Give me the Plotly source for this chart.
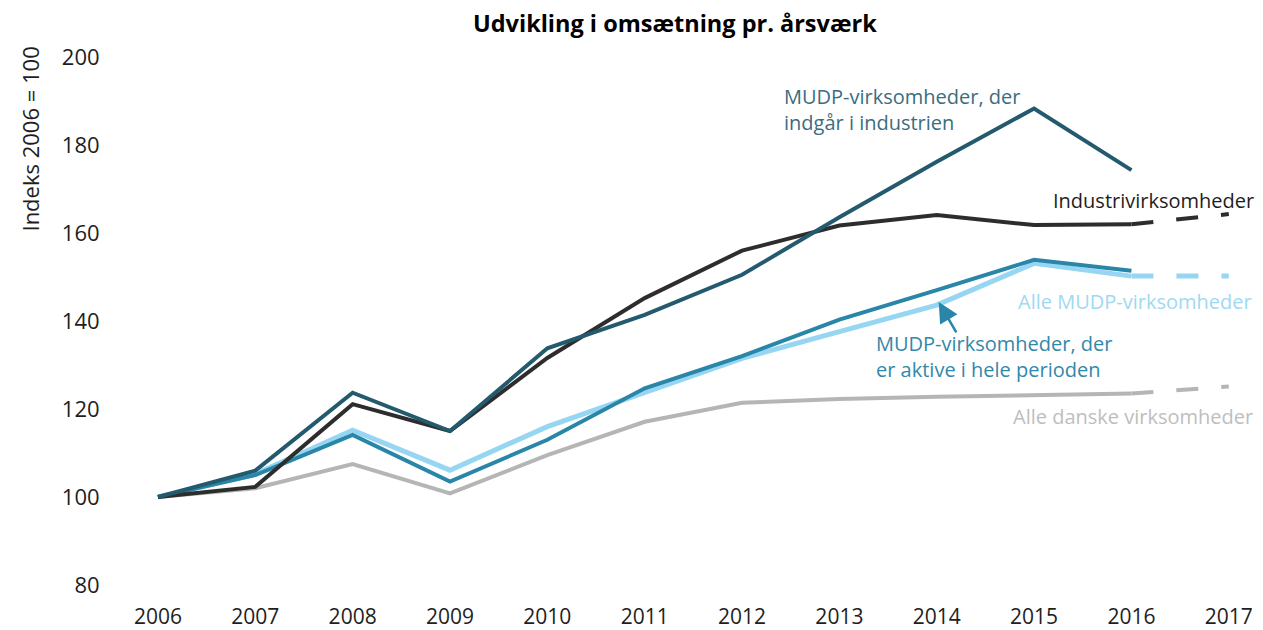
"""Udvikling i omsætning pr. årsværk - indekserede linjer."""

import plotly.graph_objects as go

years = [2006, 2007, 2008, 2009, 2010, 2011, 2012, 2013, 2014, 2015, 2016]
mudp_industri = [100, 106.0, 123.7, 115.0, 133.8, 141.4, 150.5, 163.6, 176.2, 188.3, 174.3]
industri = [100, 102.3, 121.1, 115.0, 131.6, 145.2, 156.0, 161.7, 164.1, 161.8, 162.0]
mudp_aktive = [100, 105.0, 114.1, 103.5, 113.0, 124.7, 132.0, 140.3, 147.0, 153.9, 151.4]
alle_mudp = [100, 105.2, 115.2, 106.1, 116.0, 123.9, 131.5, 137.6, 143.6, 153.1, 150.2]
alle_danske = [100, 102.0, 107.5, 100.8, 109.5, 117.1, 121.4, 122.3, 122.8, 123.2, 123.5]

# fremskrivning 2016 -> 2017 (stiplet)
proj_years = [2016, 2017]
industri_proj = [162.0, 164.3]
alle_mudp_proj = [150.2, 150.2]
alle_danske_proj = [123.5, 125.1]

tick_years = list(range(2006, 2018))
y_ticks = [80, 100, 120, 140, 160, 180, 200]

FONT = "Open Sans"
DARK_TEAL = "#235A6E"
BLACK = "#2D2D2D"
MID_TEAL = "#2A86A8"
LIGHT_BLUE = "#97D6F2"
GREY = "#B5B5B5"

fig = go.Figure()

# draw order: grey at bottom, dark lines on top
solid = [
    (alle_danske, GREY, 4),
    (alle_mudp, LIGHT_BLUE, 5),
    (mudp_aktive, MID_TEAL, 4),
    (industri, BLACK, 4),
    (mudp_industri, DARK_TEAL, 4),
]
for vals, color, width in solid:
    fig.add_trace(
        go.Scatter(
            x=years,
            y=vals,
            mode="lines",
            line={"color": color, "width": width},
            hoverinfo="skip",
        )
    )

dashed = [
    (alle_danske_proj, GREY, 4),
    (alle_mudp_proj, LIGHT_BLUE, 5),
    (industri_proj, BLACK, 4),
]
for vals, color, width in dashed:
    fig.add_trace(
        go.Scatter(
            x=proj_years,
            y=vals,
            mode="lines",
            line={"color": color, "width": width, "dash": "22px,23px"},
            hoverinfo="skip",
        )
    )

# series labels: (text, x, y, colour, anchor)
labels = [
    ("MUDP-virksomheder, der<br>indgår i industrien", 2012.41, 188.0, "#3A6D80", "left"),
    ("Industrivirksomheder", 2017.28, 167.4, "#1E1E1E", "right"),
    ("Alle MUDP-virksomheder", 2017.26, 144.5, "#9FD9F2", "right"),
    ("MUDP-virksomheder, der<br>er aktive i hele perioden", 2013.36, 131.9, "#3288AA", "left"),
    ("Alle danske virksomheder", 2017.27, 118.3, "#BEBEBE", "right"),
]
for text, x, y, color, anchor in labels:
    fig.add_annotation(
        text=text,
        x=x,
        y=y,
        xref="x",
        yref="y",
        xanchor=anchor,
        yanchor="middle",
        align="left",
        showarrow=False,
        font={"family": FONT, "size": 20, "color": color},
    )

# arrow pointing at the "aktive" line
fig.add_annotation(
    text="",
    x=2014.02,
    y=144.3,
    ax=2014.21,
    ay=137.1,
    xref="x",
    yref="y",
    axref="x",
    ayref="y",
    showarrow=True,
    arrowhead=2,
    arrowsize=1.6,
    arrowwidth=2.5,
    arrowcolor=MID_TEAL,
)

# y-axis title, placed at the top-left like the original
fig.add_annotation(
    text="Indeks 2006 = 100",
    xref="paper",
    yref="paper",
    x=-0.078,
    y=1.023,
    xanchor="center",
    yanchor="top",
    textangle=-90,
    showarrow=False,
    font={"family": FONT, "size": 22, "color": "#1E1E1E"},
)

# page body has an 8px margin, so the figure is sized to the visible area
fig.update_layout(
    title={
        "text": "<b>Udvikling i omsætning pr. årsværk</b>",
        "x": 0.488,
        "xref": "paper",
        "xanchor": "center",
        "y": 0.974,
        "yanchor": "middle",
        "font": {"family": FONT, "size": 23.5, "color": "#000000"},
    },
    width=1255,
    height=622,
    margin={"l": 111, "r": 5, "t": 49, "b": 45},
    plot_bgcolor="white",
    paper_bgcolor="white",
    showlegend=False,
    font={"family": FONT, "size": 22, "color": "#1E1E1E"},
)

fig.update_xaxes(
    range=[2005.6, 2017.3],
    tickvals=tick_years,
    ticktext=[str(y) for y in tick_years],
    showgrid=False,
    zeroline=False,
    showline=False,
    automargin=False,
    ticks="outside",
    ticklen=13,
    tickcolor="rgba(0,0,0,0)",
    tickfont={"family": FONT, "size": 21, "color": "#1E1E1E"},
)

fig.update_yaxes(
    range=[80, 200],
    tickvals=y_ticks,
    showgrid=False,
    zeroline=False,
    showline=False,
    automargin=False,
    ticks="outside",
    ticklen=14,
    tickcolor="rgba(0,0,0,0)",
    tickfont={"family": FONT, "size": 22, "color": "#1E1E1E"},
)

fig.write_html("out.html")
